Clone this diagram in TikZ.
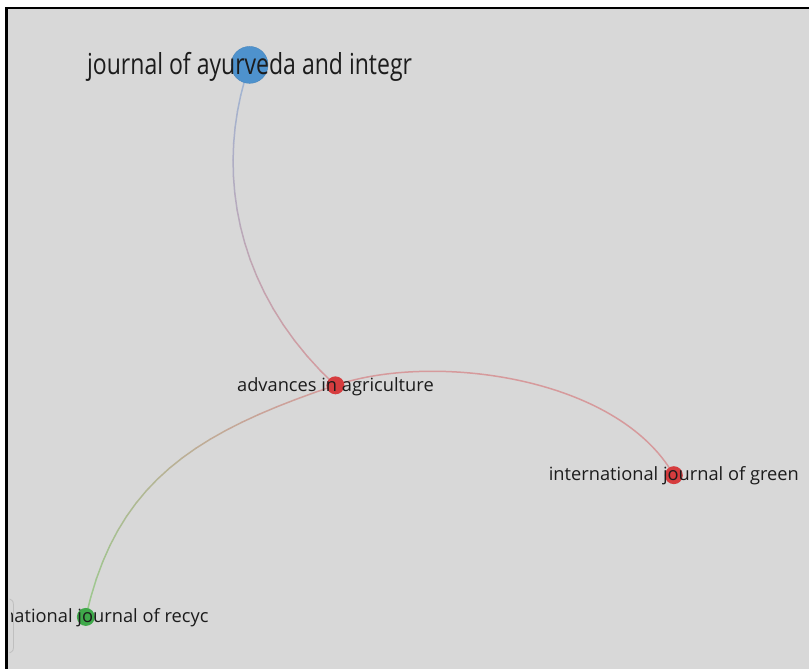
\documentclass[tikz,border=0pt]{standalone}
\usepackage{fontspec}
\setmainfont{Open Sans}
\newfontfamily\widelabel{Open Sans}[FakeStretch=0.795]
\usetikzlibrary{backgrounds}
\definecolor{bgGrey}{HTML}{D8D8D8}
\definecolor{nodeBlue}{HTML}{4E92CD}
\definecolor{nodeRed}{HTML}{D63C3E}
\definecolor{nodeGreen}{HTML}{3FA94A}
\definecolor{edgeBlue}{HTML}{9FB5D4}
\definecolor{edgeRed}{HTML}{D69A9C}
\definecolor{edgeGreen}{HTML}{9CC88E}
\definecolor{labelInk}{HTML}{1C1C1C}
\tikzstyle{item} = [circle, inner sep=0pt, minimum size=18pt]
\tikzstyle{itemlabel} = [text=labelInk, font=\fontsize{18.3}{20}\selectfont, anchor=base, inner sep=0pt]
\tikzstyle{link} = [line width=1.5pt, line cap=round]
% curved link whose colour runs from #5 (at #1) to #6 (at #4)
\newcommand{\fadelink}[6]{%
  \path (#1) .. controls #2 and #3 .. (#4)
    \foreach \k in {0,...,20}{ coordinate[pos=\k/20] (fl\k) };
  \foreach \k [evaluate=\k as \j using int(\k+1),
               evaluate=\k as \m using int(100-5*\k)] in {0,...,19}
    \draw[link, #5!\m!#6] (fl\k) -- (fl\j);
}

\begin{document}
\begin{tikzpicture}[x=1pt, y=-1pt]
    % journals
    \node [item, fill=nodeBlue, draw=nodeBlue!92!black, line width=0.4pt, minimum size=37pt] (ayur) at (250,65) {};
    \node [item, fill=nodeRed] (agri) at (336,386) {};
    \node [item, fill=nodeRed] (green) at (675,476) {};
    \node [item, fill=nodeGreen] (recyc) at (86,618) {};

    \begin{scope}[on background layer]
    % frame
    \fill[white] (0,0) rectangle (810,670);
    \fill[bgGrey] (6.5,8) rectangle (810,670);
    \draw[line width=2.8pt] (6.5,670) -- (6.5,8) -- (810,8);
    \draw[black!25, line width=0.8pt] (9.5,600) .. controls (13.5,602) .. (13.5,610)
        -- (13.5,645) .. controls (13.5,652) .. (9.5,654);
    % links
    \fadelink{ayur.center}{(215,165)}{(232,290)}{agri.center}{edgeBlue}{edgeRed}
    \draw [link, edgeRed] (agri.center) .. controls (432,353) and (618,376) .. (green.center);
    \fadelink{recyc.center}{(116,483)}{(196,433)}{agri.center}{edgeGreen}{edgeRed}
    \end{scope}

    % labels
    \begin{scope}
    \clip (12,9.5) rectangle (810,670);
    \node [itemlabel, font=\widelabel\fontsize{29}{32}\selectfont] (ayurtext) at ([yshift=-10pt]ayur.center) {journal of ayurveda and integr};
    \node [itemlabel] (agritext) at ([yshift=-5.8pt]agri.center) {advances in agriculture};
    \node [itemlabel] (greentext) at ([yshift=-5.2pt]green.center) {international journal of green};
    \node [itemlabel] (recyctext) at ([yshift=-5.2pt]recyc.center) {international journal of recyc};
    \end{scope}
\end{tikzpicture}
\end{document}
